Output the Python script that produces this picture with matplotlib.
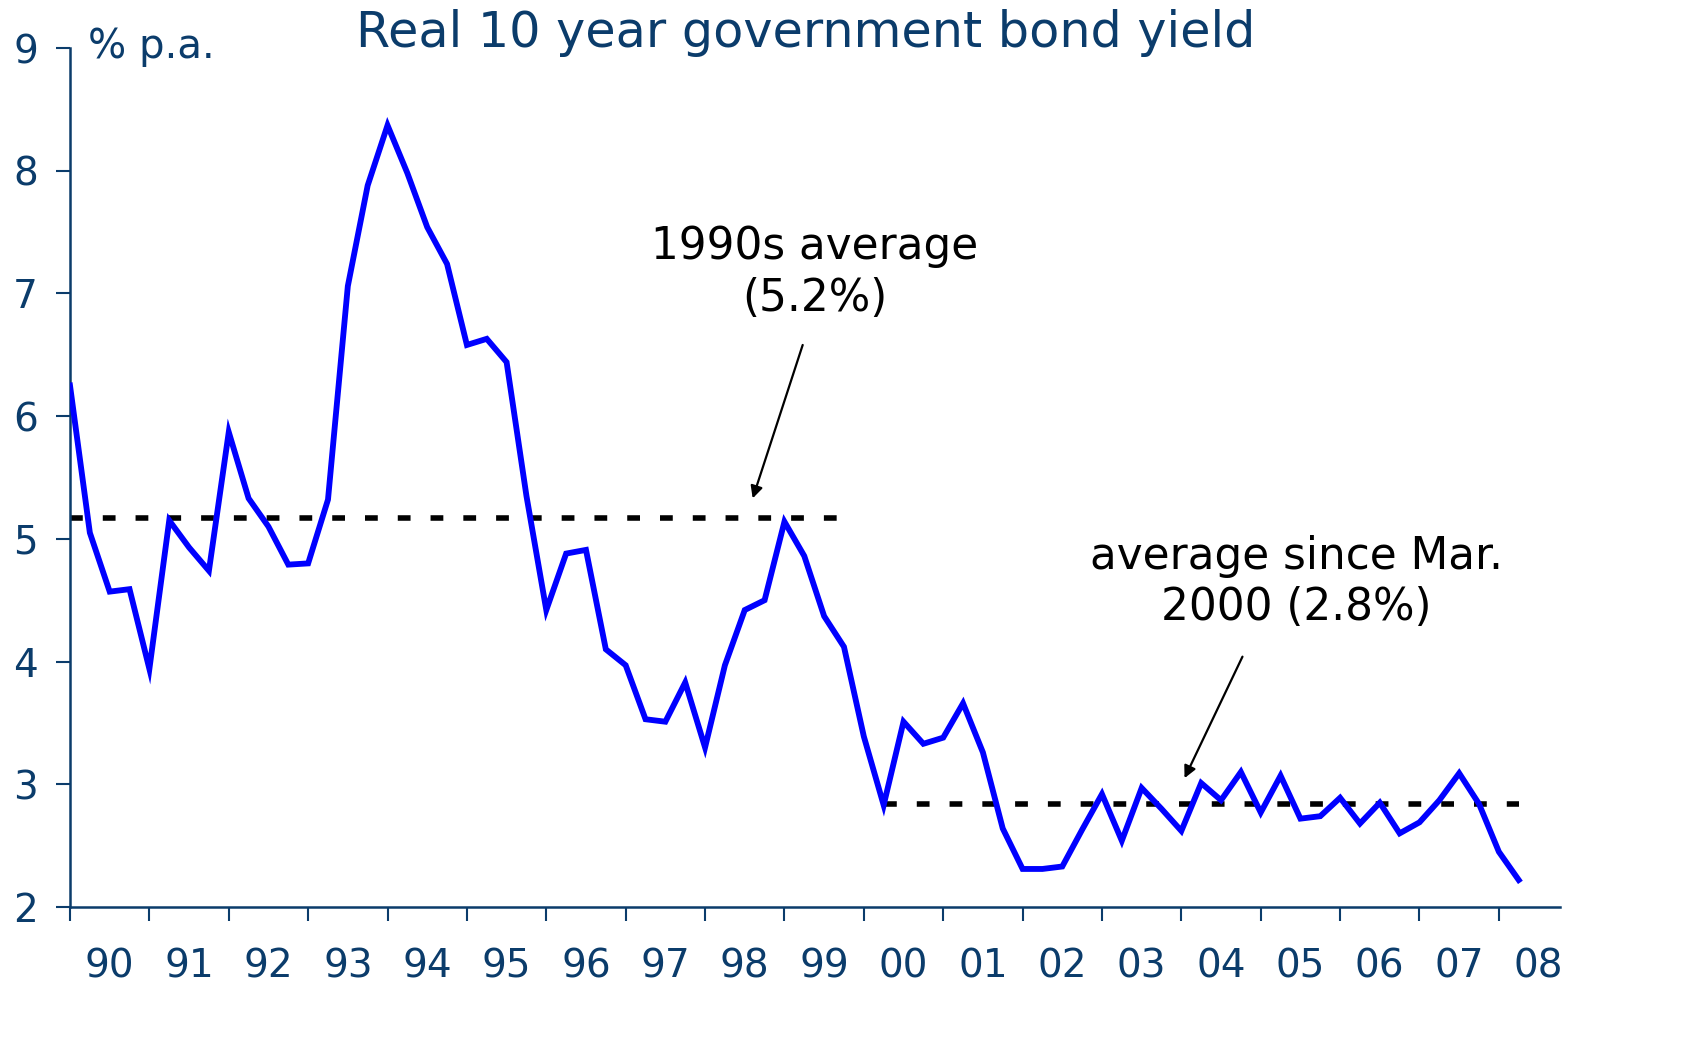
import numpy as np
import matplotlib
matplotlib.use("Agg")
import matplotlib.pyplot as plt

# ---- data (quarterly, starting 1990) ----
start_year = 1990
yields = [6.25, 5.05, 4.57, 4.59, 3.94, 5.15, 4.93, 4.74, 5.87, 5.33,
          5.10, 4.79, 4.80, 5.32, 7.06, 7.88, 8.37, 7.98, 7.54, 7.24,
          6.58, 6.63, 6.44, 5.35, 4.42, 4.88, 4.91, 4.10, 3.97, 3.53,
          3.51, 3.83, 3.30, 3.97, 4.42, 4.50, 5.14, 4.86, 4.37, 4.12,
          3.39, 2.83, 3.51, 3.33, 3.38, 3.66, 3.26, 2.64, 2.31, 2.31,
          2.33, 2.63, 2.92, 2.54, 2.97, 2.80, 2.62, 3.01, 2.87, 3.10,
          2.77, 3.07, 2.72, 2.74, 2.89, 2.68, 2.85, 2.60, 2.69, 2.87,
          3.09, 2.84, 2.45, 2.22]
avg_1990s = 5.17
avg_since_2000 = 2.84
year_labels = ['90', '91', '92', '93', '94', '95', '96', '97', '98', '99',
               '00', '01', '02', '03', '04', '05', '06', '07', '08']
y_ticks = [2, 3, 4, 5, 6, 7, 8, 9]

navy = '#0B3C6B'

x = start_year + 0.25 * np.arange(len(yields))

fig = plt.figure(figsize=(16.9, 10.58), dpi=100)
ax = fig.add_axes([70/1690, 151/1058, 1490/1690, 859/1058])

ax.plot(x, yields, color='#0000FF', lw=4.2, solid_joinstyle='miter', zorder=3)

# average lines
ax.plot([1990.0, 1999.85], [avg_1990s]*2, color='black', lw=4.0,
        dashes=(2.3, 3.6), dash_capstyle='butt', zorder=2)
ax.plot([x[41], x[-1]], [avg_since_2000]*2, color='black', lw=4.0,
        dashes=(2.3, 3.6), dash_capstyle='butt', zorder=2)

ax.set_xlim(1990, 2008.77)
ax.set_ylim(2, 9)

for s in ['top', 'right']:
    ax.spines[s].set_visible(False)
for s in ['left', 'bottom']:
    ax.spines[s].set_color(navy)
    ax.spines[s].set_linewidth(1.8)

years = np.arange(1990, 2009)
ax.set_xticks(years)
ax.set_xticklabels([])
ax.set_xticks(years + 0.5, minor=True)
ax.set_xticklabels(year_labels, minor=True)
ax.tick_params(axis='x', which='major', direction='out', length=10,
               width=1.5, color=navy)
ax.tick_params(axis='x', which='minor', length=0, pad=29,
               labelsize=28, labelcolor=navy)
ax.set_yticks(y_ticks)
ax.set_yticklabels([str(v) for v in y_ticks])
ax.tick_params(axis='y', direction='out', length=10, width=1.5,
               color=navy, labelsize=28, labelcolor=navy, pad=13)

# titles
fig.text(806/1690, 1 - 33/1058, 'Real 10 year government bond yield',
         ha='center', va='center', fontsize=35.5, color=navy)
fig.text(88/1690, 1 - 47/1058, '% p.a.', ha='left', va='center',
         fontsize=29, color=navy)

# annotations
ax.text(1999.38, 7.17, '1990s average\n(5.2%)', ha='center', va='center',
        fontsize=31.5, color='black', linespacing=1.25)
ax.annotate('', xy=(1998.60, 5.33), xytext=(1999.23, 6.58),
            arrowprops=dict(arrowstyle='-|>', color='black', lw=1.6,
                            mutation_scale=18, shrinkA=0, shrinkB=0))
ax.text(2005.45, 4.65, 'average since Mar.\n2000 (2.8%)', ha='center',
        va='center', fontsize=31.5, color='black', linespacing=1.25)
ax.annotate('', xy=(2004.04, 3.05), xytext=(2004.77, 4.04),
            arrowprops=dict(arrowstyle='-|>', color='black', lw=1.6,
                            mutation_scale=18, shrinkA=0, shrinkB=0))

fig.savefig('out.png', dpi=100)
